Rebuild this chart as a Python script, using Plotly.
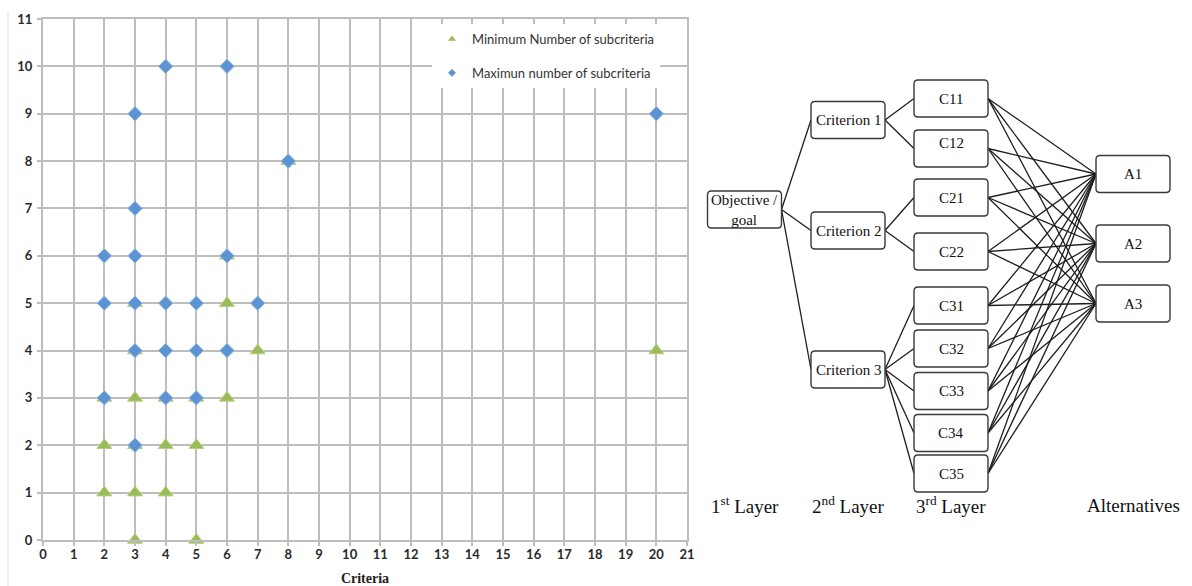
import plotly.graph_objects as go

# ---------------- Left chart data ----------------
max_x = [4, 6, 3, 20, 8, 3, 2, 3, 6, 2, 3, 4, 5, 7, 3, 4, 5, 6, 2, 4, 5, 3]
max_y = [10, 10, 9, 9, 8, 7, 6, 6, 6, 5, 5, 5, 5, 5, 4, 4, 4, 4, 3, 3, 3, 2]
min_x = [8, 6, 3, 6, 3, 7, 20, 2, 3, 4, 5, 6, 2, 3, 4, 5, 2, 3, 4, 3, 5]
min_y = [8, 6, 5, 5, 4, 4, 4, 3, 3, 3, 3, 3, 2, 2, 2, 2, 1, 1, 1, 0, 0]
min_name = "Minimum Number of subcriteria"
max_name = "Maximun number of subcriteria"
x_ticks = list(range(0, 22))
y_ticks = list(range(0, 12))

# ---------------- Right diagram data ----------------
node_ids = ["G", "K1", "K2", "K3", "C11", "C12", "C21", "C22",
            "C31", "C32", "C33", "C34", "C35", "A1", "A2", "A3"]
node_labels = ["Objective /<br>goal", "Criterion 1", "Criterion 2", "Criterion 3",
               "C11", "C12", "C21", "C22", "C31", "C32", "C33", "C34", "C35",
               "A1", "A2", "A3"]
node_col = [0, 1, 1, 1, 2, 2, 2, 2, 2, 2, 2, 2, 2, 3, 3, 3]
node_y = [209.5, 120, 230.5, 369.5, 98.5, 148.5, 197.5, 251.5,
          305.5, 348.5, 391, 433, 473.5, 174, 243.5, 303.5]
label_dy = [0, 0, 0, 0, 0, -6, 0, 0, 0, 0, 0, 0, 0, 0, 0, 0]
col_x = [744.5, 848, 951, 1133]
layer_labels = ["1<sup>st</sup> Layer", "2<sup>nd</sup> Layer",
                "3<sup>rd</sup> Layer", "Alternatives"]
layer_label_y = 505
edges = [("G", "K1"), ("G", "K2"), ("G", "K3"),
         ("K1", "C11"), ("K1", "C12"), ("K2", "C21"), ("K2", "C22"),
         ("K3", "C31"), ("K3", "C32"), ("K3", "C33"), ("K3", "C34"), ("K3", "C35")]
subs = ["C11", "C12", "C21", "C22", "C31", "C32", "C33", "C34", "C35"]
alts = ["A1", "A2", "A3"]
edges += [(s, a) for s in subs for a in alts]

BOX_W, BOX_H, BOX_R = 74, 37, 4

W, H = 1192, 586
GRID = "#bdbdbd"

fig = go.Figure()

# legend-only proxies (small symbols like the original legend)
fig.add_trace(go.Scatter(x=[None], y=[None], mode="markers", name=min_name,
                         legendgroup="min",
                         marker=dict(symbol="triangle-up", size=7, color="#9BBB59",
                                     line=dict(width=0))))
fig.add_trace(go.Scatter(x=[None], y=[None], mode="markers", name=max_name,
                         legendgroup="max",
                         marker=dict(symbol="diamond", size=6, color="#5B93D3",
                                     line=dict(width=0))))

fig.add_trace(go.Scatter(x=min_x, y=min_y, mode="markers", name=min_name,
                         showlegend=False, cliponaxis=False,
                         marker=dict(symbol="triangle-up", size=13, color="#9BBB59",
                                     line=dict(width=1, color="#b4d07a"))))
fig.add_trace(go.Scatter(x=max_x, y=max_y, mode="markers", name=max_name,
                         showlegend=False, cliponaxis=False,
                         marker=dict(symbol="diamond", size=11, color="#5B93D3",
                                     line=dict(width=1, color="#8fb4e0"))))

# ---------------- diagram ----------------
pos = {}
for nid, c, y in zip(node_ids, node_col, node_y):
    pos[nid] = (col_x[c], y)

ex, ey = [], []
for a, b in edges:
    xa, ya = pos[a]
    xb, yb = pos[b]
    ex += [xa + BOX_W / 2, xb - BOX_W / 2, None]
    ey += [ya, yb, None]
fig.add_trace(go.Scatter(x=ex, y=ey, mode="lines", xaxis="x2", yaxis="y2",
                         showlegend=False, hoverinfo="skip",
                         line=dict(color="#1e1e1e", width=1.3)))


def rrect(x0, y0, x1, y1, r):
    return (f"M{x0 + r},{y0} L{x1 - r},{y0} Q{x1},{y0} {x1},{y0 + r} "
            f"L{x1},{y1 - r} Q{x1},{y1} {x1 - r},{y1} L{x0 + r},{y1} "
            f"Q{x0},{y1} {x0},{y1 - r} L{x0},{y0 + r} Q{x0},{y0} {x0 + r},{y0} Z")


shapes = []
annotations = []
for nid, lab, dy in zip(node_ids, node_labels, label_dy):
    cx, cy = pos[nid]
    shapes.append(dict(type="path", xref="x2", yref="y2",
                       path=rrect(cx - BOX_W / 2, cy - BOX_H / 2,
                                  cx + BOX_W / 2, cy + BOX_H / 2, BOX_R),
                       fillcolor="white", line=dict(color="#3a3a3a", width=1.4),
                       layer="above"))
    annotations.append(dict(x=cx, y=cy + dy, xref="x2", yref="y2", text=lab,
                            showarrow=False,
                            font=dict(family="Liberation Serif", size=15, color="#111")))

for cx, lab in zip(col_x, layer_labels):
    annotations.append(dict(x=cx, y=layer_label_y, xref="x2", yref="y2", text=lab,
                            showarrow=False,
                            font=dict(family="Liberation Serif", size=19, color="#111")))

# faint chart frame line on the far left
shapes.append(dict(type="line", xref="paper", yref="paper",
                   x0=8 / W, x1=8 / W, y0=0, y1=1 - 12 / H,
                   line=dict(color="#dcdcdc", width=1)))

axis_common = dict(showgrid=True, gridcolor=GRID, gridwidth=2,
                   showline=True, linecolor=GRID, linewidth=2, mirror=True,
                   zeroline=False, ticks="outside", ticklen=4, tickcolor=GRID,
                   tickwidth=2, automargin=False,
                   tickfont=dict(family="Lato", size=13, color="#2a2a2a",
                                 weight="bold"))

fig.update_layout(
    width=W, height=H,
    margin=dict(l=0, r=0, t=0, b=0, autoexpand=False),
    paper_bgcolor="white", plot_bgcolor="white",
    xaxis=dict(domain=[43 / W, 687 / W], range=[0, 21], tickvals=x_ticks,
               ticklabelstandoff=-3,
               title=dict(text="<b>Criteria</b>", standoff=13,
                          font=dict(family="Liberation Serif", size=14, color="#222")),
               **axis_common),
    yaxis=dict(domain=[1 - 540 / H, 1 - 19 / H], range=[0, 11], tickvals=y_ticks,
               ticklabelstandoff=2,
               **axis_common),
    xaxis2=dict(domain=[700 / W, 1], range=[700, 1192], visible=False),
    yaxis2=dict(domain=[0, 1], range=[586, 0], visible=False, anchor="x2"),
    showlegend=True,
    legend=dict(x=432 / W, y=1 - 24 / H, xanchor="left", yanchor="top",
                bgcolor="white", borderwidth=0, traceorder="grouped",
                tracegroupgap=14,
                font=dict(family="Lato", size=13, color="#333")),
    shapes=shapes,
    annotations=annotations,
)

fig.write_html("out.html", config={"displayModeBar": False},
               post_script="document.body.style.margin='0';"
                           "document.body.style.padding='0';")
